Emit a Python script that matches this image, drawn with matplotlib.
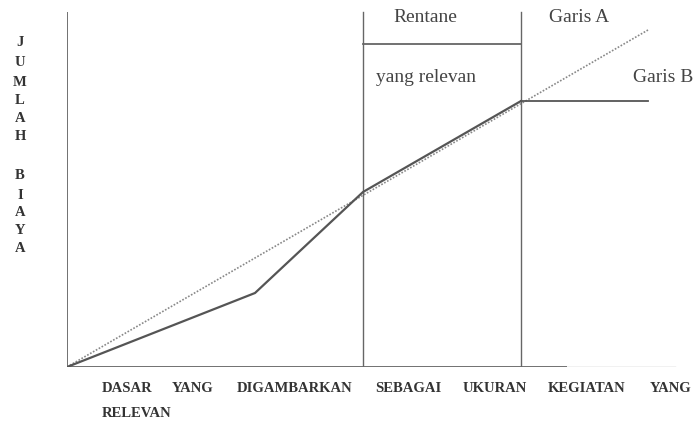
import matplotlib
matplotlib.use("Agg")
import matplotlib.pyplot as plt

# Data (activity level vs total cost), arbitrary units
solid_x = [0, 188, 296, 454]
solid_y = [0, 74, 175, 266]
garis_b_x = [454, 581]
garis_b_y = [266, 266]
garis_a_x = [0, 581]
garis_a_y = [0, 337]
range_lo, range_hi = 296, 454

y_label = ["J", "U", "M", "L", "A", "H", "", "B", "I", "A", "Y", "A"]
x_words = ["DASAR", "YANG", "DIGAMBARKAN", "SEBAGAI", "UKURAN", "KEGIATAN", "YANG"]
x_word_pos = [35, 105, 170, 308, 396, 481, 583]

W, H = 697, 423
fig = plt.figure(figsize=(W / 100, H / 100), dpi=100)
ax = fig.add_axes([67 / W, (H - 367) / H, (W - 67) / W, 367 / H])
ax.set_xlim(0, W - 67)
ax.set_ylim(0, 367)
ax.axis("off")

axc = "#666666"
lc = "#555555"
serif = ["Liberation Serif", "DejaVu Serif"]
tc = "#444444"

# axes lines
ax.plot([0, 0], [0, 355], color=axc, lw=1.3, solid_capstyle="butt")
ax.plot([0, 500], [0, 0], color=axc, lw=1.3, solid_capstyle="butt")
ax.plot([500, 608], [0, 0], color="#bbbbbb", lw=1.0)

# relevant range box
ax.plot([range_lo, range_lo], [0, 355], color=axc, lw=1.0)
ax.plot([range_hi, range_hi], [0, 355], color=axc, lw=1.0)
ax.plot([range_lo, range_hi], [323, 323], color=axc, lw=1.3)

# lines
ax.plot(garis_a_x, garis_a_y, color="#888888", lw=1.2, ls=(0, (1, 1)))
ax.plot(solid_x, solid_y, color=lc, lw=1.6)
ax.plot(garis_b_x, garis_b_y, color=lc, lw=1.3)

# texts
fs = 14
ax.text(393 - 67, 349, "Rentane", fontsize=fs, family=serif, color=tc, ha="left", va="center")
ax.text(549 - 67, 349, "Garis A", fontsize=fs, family=serif, color=tc, ha="left", va="center")
ax.text(376 - 67, 289, "yang relevan", fontsize=fs, family=serif, color=tc, ha="left", va="center")
ax.text(633 - 67, 289, "Garis B", fontsize=fs, family=serif, color=tc, ha="left", va="center")

y_pos = [43, 62, 82, 100, 118, 137, None, 175, 195, 213, 230, 248]
for ch, yp in zip(y_label, y_pos):
    if ch:
        fig.text(20 / W, 1 - yp / H, ch, fontsize=10.5, family=serif,
                 fontweight="bold", color="#333333", ha="center", va="center")

for w, p in zip(x_words, x_word_pos):
    ax.text(p, -21, w, fontsize=10.5, family=serif, fontweight="bold",
            color="#333333", ha="left", va="center")
ax.text(35, -46, "RELEVAN", fontsize=10.5, family=serif, fontweight="bold",
        color="#333333", ha="left", va="center")

fig.savefig("out.png", dpi=100)
